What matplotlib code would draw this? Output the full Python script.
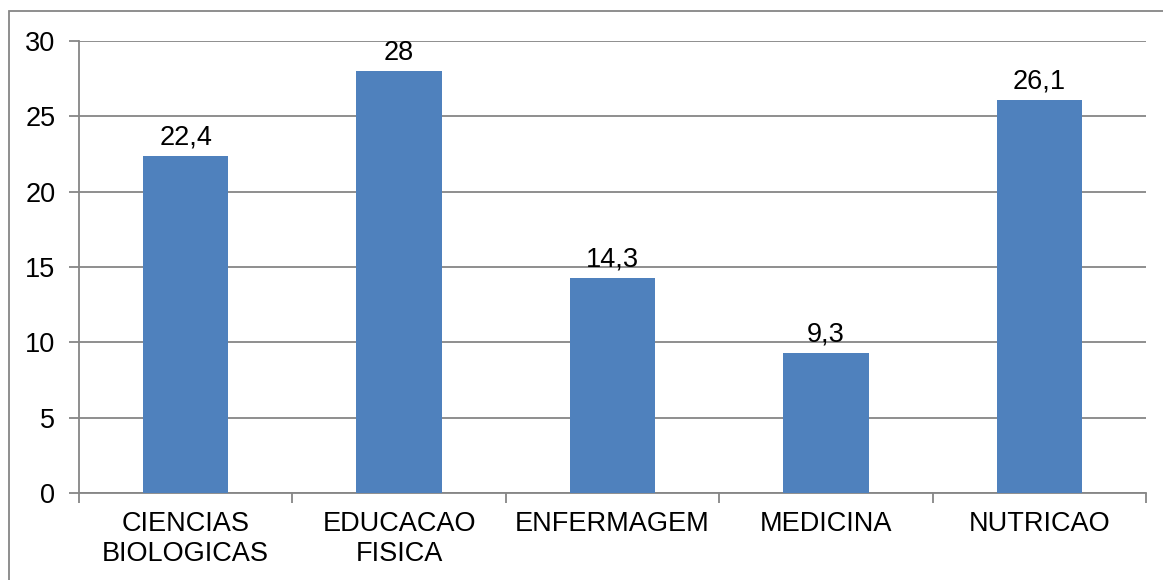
import numpy as np
import matplotlib.pyplot as plt
from matplotlib.patches import Rectangle

# dados do gráfico
cursos = ['CIENCIAS\nBIOLOGICAS', 'EDUCACAO\nFISICA', 'ENFERMAGEM', 'MEDICINA', 'NUTRICAO']
valores = [22.4, 28, 14.3, 9.3, 26.1]
rotulos = ['22,4', '28', '14,3', '9,3', '26,1']
ticks_y = [0, 5, 10, 15, 20, 25, 30]

plt.rcParams['font.family'] = ['Liberation Sans', 'DejaVu Sans']
cinza = '#868686'
fs = 19.5

fig = plt.figure(figsize=(11.63, 5.80), dpi=100)
ax = fig.add_axes([79 / 1163, 1 - 493 / 580, (1146 - 79) / 1163, (493 - 41) / 580])

x = np.arange(len(cursos))
ax.bar(x, valores, width=0.4, color='#4F81BD', zorder=3)

for xi, v, r in zip(x, valores, rotulos):
    ax.text(xi, v + 0.35, r, ha='center', va='bottom', fontsize=fs, color='black')

ax.set_xlim(-0.5, len(cursos) - 0.5)
ax.set_ylim(0, 30)
ax.set_yticks(ticks_y)
ax.set_yticklabels([str(t) for t in ticks_y], fontsize=fs)
ax.yaxis.grid(True, color=cinza, linewidth=1.3, zorder=0)

# ticks do eixo x nas fronteiras das categorias
ax.set_xticks(np.arange(-0.5, len(cursos), 1.0))
ax.set_xticklabels([])
ax.set_xticks(x, minor=True)
ax.set_xticklabels(cursos, minor=True, fontsize=fs, linespacing=1.2)
ax.tick_params(axis='x', which='major', length=7, color=cinza, width=1.3, direction='out')
ax.tick_params(axis='x', which='minor', length=0, pad=13)
ax.tick_params(axis='y', length=7, color=cinza, width=1.3, pad=10)

for s in ['top', 'right']:
    ax.spines[s].set_visible(False)
for s in ['left', 'bottom']:
    ax.spines[s].set_color(cinza)
    ax.spines[s].set_linewidth(1.3)

# moldura externa (cortada à direita e embaixo)
fig.patches.append(Rectangle((9 / 1163, -0.1), 1.2, 1 - 11 / 580 + 0.1,
                             transform=fig.transFigure, fill=False,
                             edgecolor=cinza, linewidth=1.3))

fig.savefig('out.png', dpi=100)
